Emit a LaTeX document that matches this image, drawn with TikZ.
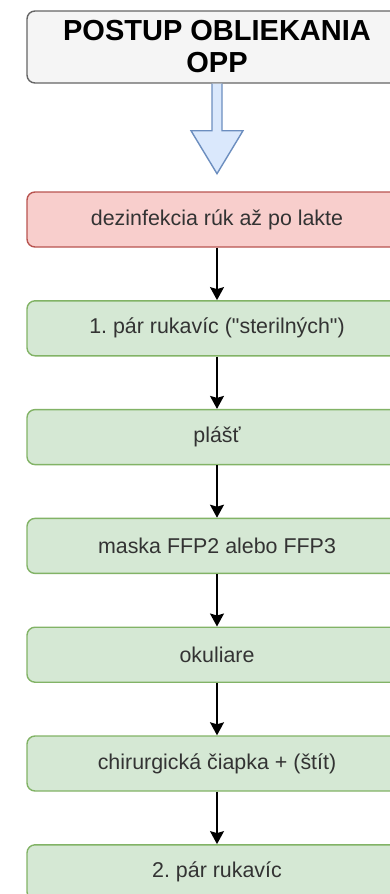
\documentclass[tikz,border=0pt]{standalone}
\usepackage{fontspec}
\setmainfont{Liberation Sans}
\usetikzlibrary{arrows.meta}
\definecolor{titlefill}{HTML}{F5F5F5}
\definecolor{titleline}{HTML}{666666}
\definecolor{redfill}{HTML}{F8CECC}
\definecolor{redline}{HTML}{B85450}
\definecolor{greenfill}{HTML}{D5E8D4}
\definecolor{greenline}{HTML}{82B366}
\definecolor{bluefill}{HTML}{DAE8FC}
\definecolor{blueline}{HTML}{6C8EBF}
\definecolor{textgray}{HTML}{333333}
\frenchspacing

\begin{document}
\begin{tikzpicture}[x=1pt, y=-1pt,
  stepbox/.style={shape=rectangle, rounded corners=8pt, line width=1.4pt, draw=greenline, fill=greenfill, minimum width=380pt, minimum height=55pt, inner sep=0pt, text=textgray, font=\fontsize{21.4}{25}\selectfont},
  arr/.style={-{Stealth[length=13pt, width=14pt, inset=2pt]}, line width=1.5pt, draw=black}]
\clip (0,0) rectangle (390,894);
\node[shape=rectangle, rounded corners=8pt, line width=1.4pt, draw=titleline, fill=titlefill, minimum width=380pt, minimum height=72pt, inner sep=0pt, align=center, font=\fontsize{29}{34}\selectfont\bfseries] (title) at (217,47) {\raisebox{-2pt}{POSTUP OBLIEKANIA}\\OPP};
\draw[line width=1.4pt, draw=blueline, fill=bluefill] ([xshift=-5pt]title.south) -- ++(0,47) -- ++(-21,0) -- ++(26,43) -- ++(26,-43) -- ++(-21,0) -- ++(0,-47);
\node[stepbox, draw=redline, fill=redfill] (wash) at (217,219.5) {dezinfekcia rúk až po lakte};
\node[stepbox] (gloves1) at (217,328.3) {1. pár rukavíc (\textquotedbl sterilných\textquotedbl)};
\node[stepbox] (gown) at (217,437.1) {plášť};
\node[stepbox] (mask) at (217,545.9) {maska FFP2 alebo FFP3};
\node[stepbox] (goggles) at (217,654.7) {okuliare};
\node[stepbox] (cap) at (217,763.5) {chirurgická čiapka + (štít)};
\node[stepbox] (gloves2) at (217,872.3) {2. pár rukavíc};
\path [arr] (wash) edge (gloves1);
\path [arr] (gloves1) edge (gown);
\path [arr] (gown) edge (mask);
\path [arr] (mask) edge (goggles);
\path [arr] (goggles) edge (cap);
\path [arr] (cap) edge (gloves2);
\end{tikzpicture}
\end{document}
